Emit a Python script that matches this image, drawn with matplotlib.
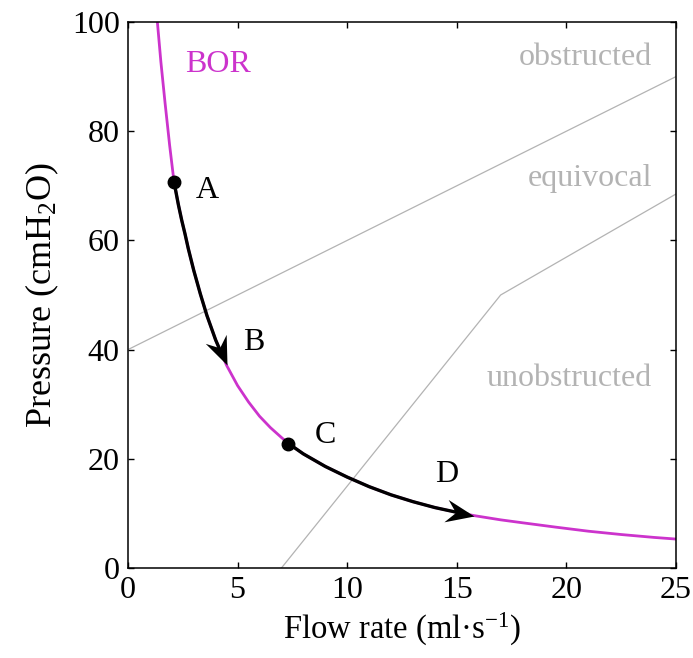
import numpy as np
import matplotlib
matplotlib.use("Agg")
import matplotlib.pyplot as plt
from matplotlib.path import Path
from matplotlib.markers import MarkerStyle
from matplotlib.transforms import Affine2D

plt.rcParams['font.family'] = ['Liberation Serif', 'DejaVu Serif']
plt.rcParams['mathtext.fontset'] = 'custom'
plt.rcParams['mathtext.rm'] = 'Liberation Serif'
plt.rcParams['mathtext.it'] = 'Liberation Serif:italic'

# BOR curve
bor_flow = [1.34, 1.5, 1.69, 1.9, 2.1, 2.3, 2.45, 2.6, 2.75, 3.0, 3.3, 3.6,
            4.0, 4.5, 5.0, 5.5, 6.0, 6.5, 7.0, 7.32, 8.0, 9.0, 10.0, 11.0,
            12.0, 13.0, 14.0, 15.0, 15.78, 17.0, 18.0, 19.5, 21.0, 22.5, 24.0, 25.0]
bor_pres = [100.0, 92.7, 85.2, 77.4, 70.7, 66.5, 63.7, 61.2, 58.5, 54.5, 50.2, 46.25,
            41.75, 37.1, 33.4, 30.4, 27.8, 25.7, 23.9, 22.8, 20.9, 18.6, 16.65, 14.9,
            13.4, 12.15, 11.07, 10.2, 9.6, 8.82, 8.28, 7.49, 6.74, 6.13, 5.6, 5.3]

# nomogram boundaries
obs_flow = [0, 25]
obs_pres = [40, 90]
unobs_flow = [7, 17, 25]
unobs_pres = [0, 50, 68.5]

# points / arrows (indices into BOR arrays)
arrow1 = (4, 13)   # A -> B
arrow2 = (19, 28)  # C -> D
dots_idx = [4, 19]

labels = ['A', 'B', 'C', 'D']
label_x = [3.09, 5.26, 8.53, 14.0]
label_y = [67.8, 39.9, 22.9, 15.8]

regions = ['obstructed', 'equivocal', 'unobstructed']
region_y = [92.1, 70.0, 33.3]

pink = '#cc33cc'
grey = '#b3b3b3'
FS = 23

fig = plt.figure(figsize=(6.93, 6.58), dpi=100)
ax = fig.add_axes([128/693, 1-568/658, 548/693, 546/658])
ax.set_xlim(0, 25)
ax.set_ylim(0, 100)

ax.plot(obs_flow, obs_pres, color=grey, lw=0.9)
ax.plot(unobs_flow, unobs_pres, color=grey, lw=0.9)
ax.plot(bor_flow, bor_pres, color=pink, lw=2.0, solid_joinstyle='round')

head = Path([(0, 0), (-1, 0.4), (-0.66, 0), (-1, -0.4), (0, 0)],
            [Path.MOVETO, Path.LINETO, Path.LINETO, Path.LINETO, Path.CLOSEPOLY])

for (i0, i1) in [arrow1, arrow2]:
    xs = bor_flow[i0:i1+1]
    ys = bor_pres[i0:i1+1]
    ax.plot(xs[:-1] + [xs[-1] - 0.3*(xs[-1]-xs[-2])], ys[:-1] + [ys[-1] - 0.3*(ys[-1]-ys[-2])],
            color='black', lw=2.4, solid_capstyle='butt', solid_joinstyle='round')
    p1 = ax.transData.transform((xs[-2], ys[-2]))
    p2 = ax.transData.transform((xs[-1], ys[-1]))
    ang = np.degrees(np.arctan2(p2[1]-p1[1], p2[0]-p1[0]))
    m = MarkerStyle(head, transform=Affine2D().rotate_deg(ang))
    ax.plot([xs[-1]], [ys[-1]], marker=m, ms=41, color='black', mec='black', mew=0, ls='none')

ax.plot([bor_flow[i] for i in dots_idx], [bor_pres[i] for i in dots_idx], 'o',
        color='black', ms=9)

for t, x, y in zip(labels, label_x, label_y):
    ax.text(x, y, t, fontsize=FS, ha='left', va='baseline')

ax.text(2.6, 90.8, 'BOR', fontsize=FS, color=pink, ha='left', va='baseline')
for t, y in zip(regions, region_y):
    ax.text(23.9, y, t, fontsize=FS, color=grey, ha='right', va='baseline')

ax.set_xticks([0, 5, 10, 15, 20, 25])
ax.set_yticks([0, 20, 40, 60, 80, 100])
ax.tick_params(direction='in', length=4, width=1, top=True, right=True,
               labelsize=FS, pad=6)
for s in ax.spines.values():
    s.set_linewidth(1.1)

ax.set_xlabel('Flow rate (ml\u00b7s$^{\\mathregular{-1}}$)', fontsize=23.5, labelpad=4)
ax.set_ylabel('Pressure (cmH$_{\\mathregular{2}}$O)', fontsize=26, labelpad=8)

fig.savefig('out.png', dpi=100)
